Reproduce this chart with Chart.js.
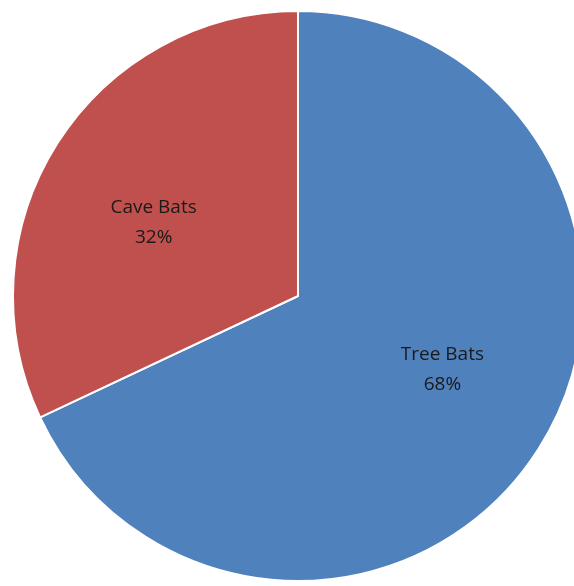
<!DOCTYPE html>
<html>
<head>
    <title>Bats Pie Chart</title>
    <style>
        html, body { margin: 0; padding: 0; background: #fff; overflow: hidden; }
        #wrap { position: absolute; left: 0; top: 0; width: 596px; height: 592px; }
    </style>
    <script src="https://cdn.jsdelivr.net/npm/chart.js"></script>
</head>
<body>
    <div id="wrap"><canvas id="batChart" width="596" height="592"></canvas></div>
    <script>
        var categories = ['Tree Bats', 'Cave Bats'];
        var shares = [68, 32];
        var sliceColors = ['#4F81BD', '#C0504D'];

        // draws "name / percent" inside each slice, like Excel's data labels
        var sliceLabels = {
            id: 'sliceLabels',
            afterDatasetsDraw: function (chart) {
                var ctx = chart.ctx;
                var meta = chart.getDatasetMeta(0);
                var total = shares.reduce(function (a, b) { return a + b; }, 0);
                ctx.save();
                ctx.font = '19px "Open Sans", sans-serif';
                ctx.fillStyle = '#1a1a1a';
                ctx.textAlign = 'center';
                ctx.textBaseline = 'middle';
                meta.data.forEach(function (arc, i) {
                    var mid = (arc.startAngle + arc.endAngle) / 2;
                    var r = arc.outerRadius * 0.6;
                    var x = arc.x + Math.cos(mid) * r;
                    var y = arc.y + Math.sin(mid) * r * 0.8;
                    var pct = Math.round(shares[i] / total * 100) + '%';
                    ctx.fillText(categories[i], x, y - 15);
                    ctx.fillText(pct, x, y + 15);
                });
                ctx.restore();
            }
        };

        new Chart(document.getElementById('batChart'), {
            type: 'pie',
            data: {
                labels: categories,
                datasets: [{
                    data: shares,
                    backgroundColor: sliceColors,
                    borderColor: '#ffffff',
                    borderWidth: 2
                }]
            },
            options: {
                responsive: false,
                animation: false,
                layout: { padding: 10 },
                plugins: {
                    legend: { display: false },
                    tooltip: { enabled: false }
                }
            },
            plugins: [sliceLabels]
        });
    </script>
</body>
</html>
